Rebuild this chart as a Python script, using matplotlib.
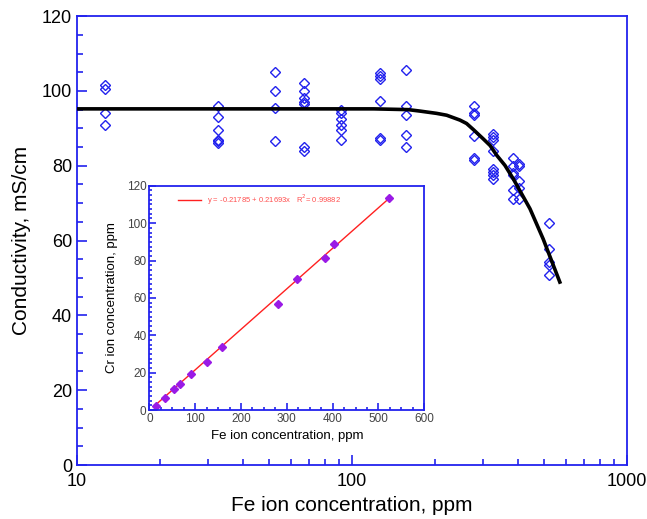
import numpy as np
import matplotlib.pyplot as plt
from matplotlib.ticker import MultipleLocator, FixedLocator, NullFormatter

plt.rcParams['font.family'] = ['Liberation Sans', 'DejaVu Sans']

# main plot: conductivity vs Fe concentration (diamonds, grouped by column)
fe_groups = [12.6, 32.7, 52.5, 66.8, 91, 126.5, 157, 278.6, 325, 384, 405.7, 521]
cond_groups = [
    [101.5, 100.5, 94, 91],
    [96, 93, 89.5, 87, 86.5, 86],
    [105, 100, 95.5, 86.5],
    [102, 100, 98, 97, 96.5, 85, 84],
    [95, 94, 92.5, 91, 89.5, 87],
    [104.7, 104, 103.3, 97.3, 87.5, 87],
    [105.5, 96, 93.5, 88.3, 85],
    [96, 94, 93.5, 88, 82, 81.5],
    [88.6, 87.7, 86.8, 84, 79, 78.3, 77.4, 76.5],
    [82, 80, 78, 77.5, 73.5, 71],
    [80.5, 80, 76, 74, 71],
    [64.6, 57.7, 54.2, 53.4, 50.7],
]

# model curve (black)
curve_fe = [10, 60, 120, 160, 177, 203, 221, 247, 261, 276, 300, 318, 336, 360, 386, 444, 496, 570]
curve_cond = [95.2, 95.2, 95.2, 95.0, 94.6, 94.0, 93.5, 92.2, 91.3, 89.7, 87.2, 85.4, 82.8,
              80.1, 76.5, 68.5, 60.4, 48.9]

# inset: Cr vs Fe
inset_fe = [13.9, 34.2, 53.8, 66.8, 90, 126.3, 157.5, 280.8, 323, 383, 402.6, 524]
inset_cr = [2.1, 6.3, 11.1, 13.7, 19.3, 25.8, 33.9, 56.7, 70, 81.2, 88.8, 113.3]
fit_a, fit_b = -0.21785, 0.21693
fit_label = "y = -0.21785 + 0.21693x   R$^2$= 0.99882"

blue = '#2222ee'

fig = plt.figure(figsize=(6.47, 5.19), dpi=100)
ax = fig.add_axes([0.119, 0.104, 0.850, 0.865])

xs, ys = [], []
for x, vals in zip(fe_groups, cond_groups):
    xs += [x] * len(vals)
    ys += vals
ax.plot(xs, ys, linestyle='none', marker='D', ms=5, mfc='none', mec=blue, mew=1.0)
ax.plot(curve_fe, curve_cond, color='black', lw=2.6, zorder=3)

ax.set_xscale('log')
ax.set_xlim(10, 1000)
ax.set_ylim(0, 120)
ax.yaxis.set_major_locator(MultipleLocator(20))
ax.yaxis.set_minor_locator(MultipleLocator(5))
ax.xaxis.set_major_locator(FixedLocator([10, 100, 1000]))
ax.set_xticklabels(['10', '100', '1000'])
ax.xaxis.set_minor_formatter(NullFormatter())
for s in ax.spines.values():
    s.set_color(blue)
    s.set_linewidth(1.3)
ax.tick_params(which='both', direction='in', color=blue, labelsize=13, top=False, right=False)
ax.tick_params(which='major', length=7, width=1.2)
ax.tick_params(which='minor', length=4, width=1.2)
ax.tick_params(axis='x', pad=6)
ax.set_xlabel('Fe ion concentration, ppm', fontsize=15)
ax.set_ylabel('Conductivity, mS/cm', fontsize=15, labelpad=8)

# inset
ins = fig.add_axes([0.2308, 0.210, 0.425, 0.432])
fit_x = np.array([min(inset_fe), max(inset_fe)])
ins.plot(fit_x, fit_a + fit_b * fit_x, color='#ff2020', lw=1.0, label=fit_label)
ins.plot(inset_fe, inset_cr, linestyle='none', marker='D', ms=4.2, color='#9a1ae6')
ins.set_xlim(0, 600)
ins.set_ylim(0, 120)
ins.xaxis.set_major_locator(MultipleLocator(100))
ins.xaxis.set_minor_locator(MultipleLocator(25))
ins.yaxis.set_major_locator(MultipleLocator(20))
ins.yaxis.set_minor_locator(MultipleLocator(2.5))
for s in ins.spines.values():
    s.set_color(blue)
    s.set_linewidth(1.3)
ins.tick_params(which='both', direction='in', color=blue, labelsize=8.5, labelcolor='#444444',
                top=False, right=False, pad=2)
ins.tick_params(which='major', length=5, width=1.2)
ins.tick_params(which='minor', length=2.5, width=1.2)
ins.set_xlabel('Fe ion concentration, ppm', fontsize=9.5, labelpad=4)
ins.set_ylabel('Cr ion concentration, ppm', fontsize=9.5, labelpad=6)
leg = ins.legend(loc='upper left', frameon=False, fontsize=5.5, handlelength=3,
                 bbox_to_anchor=(0.08, 1.0), labelcolor='#ff5050')

fig.savefig('out.png', dpi=100)
